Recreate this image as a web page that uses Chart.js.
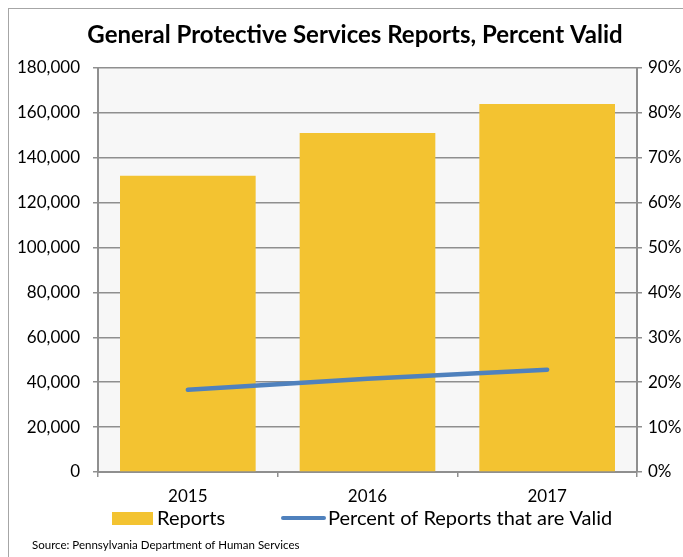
<!DOCTYPE html>
<html>
<head>
<meta charset="utf-8">
<script src="https://cdn.jsdelivr.net/npm/chart.js@4"></script>
<style>
  html, body { margin: 0; padding: 0; background: #ffffff; overflow: hidden; }
  #wrap { position: relative; width: 683px; height: 557px; overflow: hidden; }
  #frame { position: absolute; left: 8px; top: 8px; width: 720px; height: 620px; border: 1px solid #a6a6a6; box-sizing: border-box; }
  canvas { position: absolute; left: 0; top: 0; }
</style>
</head>
<body>
<div id="wrap">
  <div id="frame"></div>
  <canvas id="c" width="700" height="557"></canvas>
</div>
<script>
const categories = ['2015', '2016', '2017'];
const reports = [132000, 151000, 164000];
const percentValid = [18.3, 20.8, 22.8];
const leftTicks = [0, 20000, 40000, 60000, 80000, 100000, 120000, 140000, 160000, 180000];
const rightTicks = [0, 10, 20, 30, 40, 50, 60, 70, 80, 90];
const titleText = 'General Protective Services Reports, Percent Valid';
const sourceText = 'Source: Pennsylvania Department of Human Services';

const FONT = 'Lato';
const gridColor = '#8f8f8f';

const bgPlugin = {
  id: 'plotBg',
  beforeDraw(chart) {
    const { ctx, chartArea: a } = chart;
    ctx.save();
    ctx.fillStyle = '#f7f7f7';
    ctx.fillRect(a.left, a.top, a.right - a.left, a.bottom - a.top);
    ctx.restore();
  }
};

const legendPlugin = {
  id: 'customLegend',
  afterDraw(chart) {
    const ctx = chart.ctx;
    const ds = chart.data.datasets;
    const bar = ds.find(d => d.type === 'bar');
    const line = ds.find(d => d.type === 'line');
    ctx.save();
    ctx.font = '20px ' + FONT;
    ctx.textBaseline = 'middle';
    // bar item
    ctx.fillStyle = bar.backgroundColor;
    ctx.fillRect(112, 512, 41, 13);
    ctx.fillStyle = '#000';
    ctx.fillText(bar.label, 157, 519);
    // line item
    ctx.strokeStyle = line.borderColor;
    ctx.lineWidth = 4;
    ctx.lineCap = 'round';
    ctx.beginPath();
    ctx.moveTo(283, 518);
    ctx.lineTo(324, 518);
    ctx.stroke();
    ctx.fillStyle = '#000';
    ctx.fillText(line.label, 328, 519);
    // source
    ctx.font = '11.5px ' + FONT;
    ctx.fillText(sourceText, 32, 545);
    ctx.restore();
  }
};

new Chart(document.getElementById('c'), {
  data: {
    labels: categories,
    datasets: [
      {
        type: 'line',
        label: 'Percent of Reports that are Valid',
        data: percentValid,
        yAxisID: 'y1',
        borderColor: '#4f81bd',
        backgroundColor: '#4f81bd',
        borderWidth: 4.5,
        borderCapStyle: 'round',
        pointRadius: 0,
        tension: 0,
        order: 0
      },
      {
        type: 'bar',
        label: 'Reports',
        data: reports,
        yAxisID: 'y',
        backgroundColor: '#f3c331',
        borderWidth: 0,
        barPercentage: 0.755,
        categoryPercentage: 1.0,
        order: 1
      }
    ]
  },
  options: {
    responsive: false,
    animation: false,
    devicePixelRatio: 1,
    layout: { padding: { left: 10, right: 0, top: 0, bottom: 55 } },
    plugins: {
      legend: { display: false },
      tooltip: { enabled: false },
      title: {
        display: true,
        text: titleText,
        color: '#000',
        font: { family: FONT, size: 24, weight: 'bold', lineHeight: 1.2 },
        padding: { top: 20.6, bottom: 18.6 }
      }
    },
    scales: {
      x: {
        offset: true,
        grid: { offset: true, drawOnChartArea: false, drawTicks: true, tickLength: 5, color: gridColor, lineWidth: 1.5 },
        border: { display: true, color: gridColor, width: 2 },
        ticks: { color: '#000', font: { family: FONT, size: 17 }, padding: 9 },
        afterFit(scale) { scale.height = 30; }
      },
      y: {
        position: 'left',
        min: leftTicks[0],
        max: leftTicks[leftTicks.length - 1],
        afterBuildTicks(scale) { scale.ticks = leftTicks.map(v => ({ value: v })); },
        grid: { color: gridColor, lineWidth: 1.5, tickLength: 5, drawTicks: true },
        border: { display: true, color: gridColor, width: 2 },
        ticks: {
          color: '#000',
          font: { family: FONT, size: 17 },
          padding: 13,
          callback: v => v.toLocaleString('en-US')
        },
        afterFit(scale) { scale.width = 88; }
      },
      y1: {
        position: 'right',
        min: rightTicks[0],
        max: rightTicks[rightTicks.length - 1],
        afterBuildTicks(scale) { scale.ticks = rightTicks.map(v => ({ value: v })); },
        grid: { drawOnChartArea: false, color: gridColor, lineWidth: 1.5, tickLength: 5, drawTicks: true },
        border: { display: true, color: gridColor, width: 2 },
        ticks: {
          color: '#000',
          font: { family: FONT, size: 17 },
          padding: 6,
          callback: v => v + '%'
        },
        afterFit(scale) { scale.width = 63; }
      }
    }
  },
  plugins: [bgPlugin, legendPlugin]
});
</script>
</body>
</html>
